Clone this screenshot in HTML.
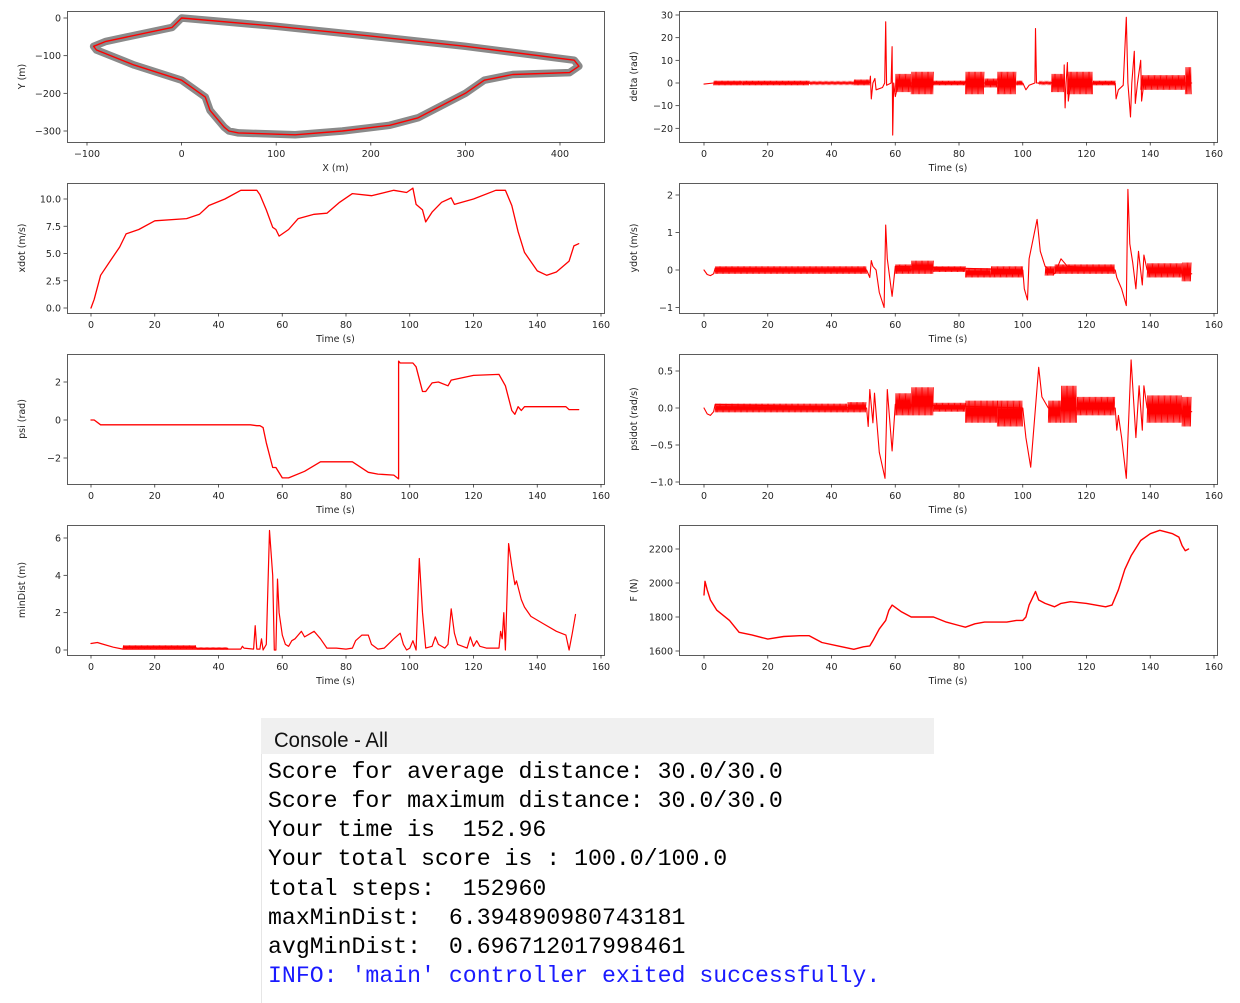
<!DOCTYPE html>
<html><head><meta charset="utf-8"><style>
html,body{margin:0;padding:0;background:#fff;width:1240px;height:1003px;overflow:hidden}
svg{display:block}
text{font-family:"DejaVu Sans","Liberation Sans",sans-serif;fill:#262626}
.mono{font-family:"Liberation Mono","DejaVu Sans Mono",monospace;font-size:23.2px;fill:#000;white-space:pre}
</style></head><body>
<svg id="fig" width="1240" height="1003" xmlns="http://www.w3.org/2000/svg">
<g id="plots"></g>
<g>
<rect x="261" y="718" width="673" height="36" fill="#f0f0f0"/>
<line x1="261.5" y1="754" x2="261.5" y2="1003" stroke="#e6e6e6"/>
<text x="274" y="747" style="font-family:'Liberation Sans',sans-serif;font-size:21px;fill:#111" textLength="114" lengthAdjust="spacingAndGlyphs">Console - All</text>
<text class="mono" x="268" y="778" xml:space="preserve">Score for average distance: 30.0/30.0</text>
<text class="mono" x="268" y="807" xml:space="preserve">Score for maximum distance: 30.0/30.0</text>
<text class="mono" x="268" y="836" xml:space="preserve">Your time is  152.96</text>
<text class="mono" x="268" y="865" xml:space="preserve">Your total score is : 100.0/100.0</text>
<text class="mono" x="268" y="895" xml:space="preserve">total steps:  152960</text>
<text class="mono" x="268" y="924" xml:space="preserve">maxMinDist:  6.394890980743181</text>
<text class="mono" x="268" y="953" xml:space="preserve">avgMinDist:  0.696712017998461</text>
<text class="mono" x="268" y="982" xml:space="preserve" style="fill:#1a1aff">INFO: 'main' controller exited successfully.</text>
</g>
</svg>
<script>
// ---- data ----
const trackX=[0,100,200,300,415,420,410,350,320,300,250,220,170,120,60,50,45,30,25,0,-50,-90,-93,-80,-10];
const trackY=[0,-22,-48,-75,-112,-128,-145,-150,-165,-200,-265,-285,-300,-310,-305,-300,-290,-245,-210,-165,-125,-85,-75,-62,-25];
const xTicksTrack=[-100,0,100,200,300,400];
const yTicksTrack=[0,-100,-200,-300];
const timeTicks=[0,20,40,60,80,100,120,140,160];

const deltaT=[0,3,52,52.2,52.5,53,53.6,54,56,56.7,57,57.3,58.7,59,59.2,59.5,60,61,100,101,102,103.8,104,104.3,112.9,113,113.3,113.6,114,114.3,115,129,129.3,130,131.5,132.5,133,133.8,134.2,135,135.3,136,137,137.3,138,153];
const deltaV=[-0.5,0,0,3,-7,0,2,-3,-2,0,27,-1,0,16,-23,0,-6,0,0,-3,-1,0,24,0,0,8,-11,0,9,-8,0,0,-7,-3,-1,29,0,-15,0,14,-9,0,10,-8,0,0];
const deltaBands=[[3,12,-1,1],[12,33,-1,1],[33,47,-0.5,0.5],[47,52,-1,1.5],[60,65,-4,4],[65,72,-5,5],[72,82,-1,1],[82,88,-5,5],[88,92,-2,2],[92,98,-5,5],[98,100,-1,1],[105,109,-0.5,0.5],[109,113,-4,4],[114,122,-5,5],[122,129,-1,1],[137,151,-3,3.5],[151,153,-5,7]];

const xdotT=[0,1,3,6,9,11,15,20,30,34,37,42,47,52,53,55,57,58,59,62,65,70,74,78,82,88,95,99,101,102,104,105,107,110,113,114,120,127,130,132,134,136,140,143,146,150,151.5,153];
const xdotV=[0,0.8,3,4.3,5.6,6.8,7.2,8,8.2,8.6,9.4,10,10.8,10.8,10.4,9,7.4,7.2,6.6,7.2,8.2,8.6,8.7,9.7,10.5,10.3,10.8,10.6,11,9.5,9,7.9,8.8,9.7,10.1,9.5,10,10.8,10.8,9.4,7,5.1,3.4,3,3.3,4.3,5.7,5.9];

const ydotT=[0,1,2,3,3.5,51,52,52.5,53,54,55,56.5,57,57.5,59,60,100,100.5,101.5,102,104.5,105.5,107,110,112,114,129,129.5,131,132.5,133,133.6,134.5,135.5,136.3,137.5,138,139,153];
const ydotV=[0,-0.12,-0.15,-0.1,0.05,0,-0.2,0.25,0.1,0,-0.6,-1,1.2,0.3,-0.7,0.1,0,-0.5,-0.8,0.3,1.35,0.5,0.1,-0.1,0.3,0.1,0,-0.2,-0.5,-0.95,2.15,0.7,0.2,-0.5,0.5,-0.4,0.4,0,-0.1];
const ydotBands=[[3.5,51,-0.1,0.1],[60,65,-0.1,0.15],[65,72,-0.1,0.25],[72,82,-0.05,0.1],[82,90,-0.2,0.05],[90,100,-0.2,0.1],[107,110,-0.15,0.1],[110,129,-0.1,0.15],[139,150,-0.2,0.18],[150,153,-0.3,0.2]];

const psiT=[0,1,3,50,52,53,54,55,57,58,60,62,67,72,82,87,90,95,96.5,96.5,97,101,102,104,105,107,109,112,113,120,128,130,132,133,134,135,136,149,150,153];
const psiV=[0,0,-0.25,-0.25,-0.3,-0.3,-0.4,-1.2,-2.5,-2.5,-3.05,-3.05,-2.7,-2.2,-2.2,-2.75,-2.85,-2.9,-3.1,3.1,3.0,3.0,2.8,1.5,1.5,1.95,2,1.8,2.1,2.35,2.4,1.8,0.5,0.3,0.7,0.5,0.7,0.7,0.55,0.55];

const psidotT=[0,1,2,3,3.5,51,51.5,52,53,53.5,55,56.8,57.5,59,60,100,101,102.5,105,106,108,129,129.5,130,131,132.5,134,135.5,136.5,137.5,138,139,153];
const psidotV=[0,-0.08,-0.1,-0.05,0.05,0,-0.25,0.25,-0.2,0.2,-0.6,-0.95,0.25,-0.58,0.05,0,-0.4,-0.8,0.55,0.15,0,0,-0.3,-0.1,-0.4,-0.95,0.65,-0.4,0.3,-0.3,0.3,0,-0.05];
const psidotBands=[[3.5,45,-0.06,0.06],[45,51,-0.06,0.08],[60,65,-0.1,0.2],[65,72,-0.1,0.28],[72,82,-0.05,0.07],[82,92,-0.2,0.1],[92,100,-0.25,0.1],[108,112,-0.2,0.1],[112,117,-0.2,0.3],[117,129,-0.1,0.15],[139,150,-0.2,0.17],[150,153,-0.25,0.15]];

const minT=[0,2,3,7,10,47,47.5,48,51,51.5,52,53,53.5,54,55,56,57,57.5,58,58.5,59,60,61,62,63,64,66,67,69,70,72,74,77,80,82,83,85,87,88,90,92,95,97,98,99,100,101,102,103,104,105,107,108,109,111,112,113,114,115,118,119,120,121,122,124,128,128.5,129,129.5,130,131,132,133,133.5,135,136,138,142,146,149,150,151,152];
const minV=[0.35,0.4,0.35,0.15,0.05,0.05,0.2,0.1,0.05,1.3,0.05,0.05,0.6,0,0.3,6.4,4,0,0,3.8,2,0.8,0.3,0.2,0.5,0.6,1,0.7,0.9,1,0.6,0.1,0.1,0.05,0.1,0.5,0.8,0.8,0.3,0.05,0.1,0.6,0.9,0.3,0,0.1,0.5,0,4.9,2,0.1,0.2,0.7,0.3,0.1,0.3,2.2,0.9,0.3,0.1,0.7,0.2,0.5,0.2,0.1,0.1,1,0.6,2,0,5.7,4.5,3.5,3.7,2.7,2.3,1.8,1.4,1,0.8,0,0.9,1.9];
const minBands=[[10,33,0.05,0.25],[33,43,0.05,0.12]];

const FT=[0,0.3,1,2,4,8,11,15,20,25,30,33,37,42,47,50,52,53,55,57,58,59,62,65,70,72,76,80,82,85,88,95,98,100,101,102,104,105,107,110,112,115,120,126,128,130,132,134,137,140,143,147,149,150,151,152];
const FV=[1930,2010,1960,1900,1840,1780,1710,1695,1670,1685,1690,1690,1650,1630,1610,1625,1630,1660,1730,1780,1840,1870,1830,1800,1800,1800,1770,1750,1740,1760,1770,1770,1780,1780,1800,1870,1950,1900,1880,1860,1880,1890,1880,1860,1870,1960,2080,2160,2250,2290,2310,2290,2270,2220,2190,2200];

// ---- drawing ----
const NS='http://www.w3.org/2000/svg';
const root=document.getElementById('plots');
function mk(tag,attrs,parent){const e=document.createElementNS(NS,tag);for(const k in attrs)e.setAttribute(k,attrs[k]);(parent||root).appendChild(e);return e;}
function lin(d0,d1,r0,r1){return v=>r0+(v-d0)*(r1-r0)/(d1-d0);}

function axes(name,x0,y0,x1,y1,sx,sy,xt,yt,xlab,ylab,fmt){
  const g=mk('g',{});
  
  
  const fr=mk('rect',{x:x0+0.5,y:y0+0.5,width:x1-x0,height:y1-y0,fill:'none',stroke:'#333','stroke-width':0.8},g);
  
  
  xt.forEach(v=>{const X=sx(v);
    mk('line',{x1:X,y1:y1,x2:X,y2:y1+3.5,stroke:'#333','stroke-width':0.8},g);
    const t=mk('text',{x:X,y:y1+15,'font-size':9.5,'text-anchor':'middle'},g);t.textContent=String(v).replace('-','\u2212');
    
    });
  yt.forEach(v=>{const Y=sy(v);
    mk('line',{x1:x0,y1:Y,x2:x0-3.5,y2:Y,stroke:'#333','stroke-width':0.8},g);
    const t=mk('text',{x:x0-6,y:Y+3.5,'font-size':9.5,'text-anchor':'end'},g);t.textContent=(fmt?fmt(v):String(v)).replace('-','\u2212');
    
    });
  const xl=mk('text',{x:(x0+x1)/2,y:y1+29,'font-size':9.5,'text-anchor':'middle'},g);xl.textContent=xlab;
  
  
  const cx=x0-42, cy=(y0+y1)/2;
  const yl=mk('text',{x:cx,y:cy,'font-size':9.5,'text-anchor':'middle',transform:`rotate(-90 ${cx} ${cy})`},g);yl.textContent=ylab;
  
  
  return g;
}
function line(g,name,xs,ys,sx,sy,color,w,extra){
  const p=mk('polyline',Object.assign({points:xs.map((x,i)=>sx(x).toFixed(1)+','+sy(ys[i]).toFixed(1)).join(' '),fill:'none',stroke:color,'stroke-width':w,'stroke-linejoin':'round','stroke-linecap':'round'},extra||{}),g);
  
  
}
function bands(g,name,bs,sx,sy){
  bs.forEach(b=>{const a=sx(b[0]),c=sx(b[1]);let pts=[];let k=0;
    for(let X=a;X<=c;X+=0.6,k++){pts.push(X.toFixed(1)+','+sy(k%2?b[3]:b[2]).toFixed(1));}
    const p=mk('polyline',{points:pts.join(' '),fill:'none',stroke:'red','stroke-width':0.8},g);
    
    });
}
const L=[67,604], R=[679,1217];
const rows=[[11,142],[183,313],[354,484],[525,655]];
const tL=lin(0,160,91,601), tR=lin(0,160,704,1214);

// track
{const sx=lin(-100,400,87,560), sy=lin(0,-300,18,131);
 const g=axes('track-plot',L[0],rows[0][0],L[1],rows[0][1],sx,sy,xTicksTrack,yTicksTrack,'X (m)','Y (m)');
 const xs=trackX.concat([trackX[0]]), ys=trackY.concat([trackY[0]]);
 line(g,'reference-track',xs,ys,sx,sy,'#8a8a8a',7.5);
 line(g,'vehicle-path',xs,ys,sx,sy,'red',1.4);}
// delta
{const sy=lin(0,30,83,15);
 const g=axes('delta-plot',R[0],rows[0][0],R[1],rows[0][1],tR,sy,timeTicks,[-20,-10,0,10,20,30],'Time (s)','delta (rad)');
 bands(g,'delta-oscillation',deltaBands,tR,sy);line(g,'delta-line',deltaT,deltaV,tR,sy,'red',1.1);}
// xdot
{const sy=lin(0,10,308,199);
 const g=axes('xdot-plot',L[0],rows[1][0],L[1],rows[1][1],tL,sy,timeTicks,[0,2.5,5,7.5,10],'Time (s)','xdot (m/s)',v=>v.toFixed(1));
 line(g,'xdot-line',xdotT,xdotV,tL,sy,'red',1.3);}
// ydot
{const sy=lin(0,2,270,195);
 const g=axes('ydot-plot',R[0],rows[1][0],R[1],rows[1][1],tR,sy,timeTicks,[-1,0,1,2],'Time (s)','ydot (m/s)');
 bands(g,'ydot-oscillation',ydotBands,tR,sy);line(g,'ydot-line',ydotT,ydotV,tR,sy,'red',1.1);}
// psi
{const sy=lin(0,2,420,382);
 const g=axes('psi-plot',L[0],rows[2][0],L[1],rows[2][1],tL,sy,timeTicks,[-2,0,2],'Time (s)','psi (rad)');
 line(g,'psi-line',psiT,psiV,tL,sy,'red',1.3);}
// psidot
{const sy=lin(0,0.5,408,371);
 const g=axes('psidot-plot',R[0],rows[2][0],R[1],rows[2][1],tR,sy,timeTicks,[-1,-0.5,0,0.5],'Time (s)','psidot (rad/s)',v=>v.toFixed(1));
 bands(g,'psidot-oscillation',psidotBands,tR,sy);line(g,'psidot-line',psidotT,psidotV,tR,sy,'red',1.1);}
// minDist
{const sy=lin(0,6,650,538);
 const g=axes('mindist-plot',L[0],rows[3][0],L[1],rows[3][1],tL,sy,timeTicks,[0,2,4,6],'Time (s)','minDist (m)');
 bands(g,'mindist-oscillation',minBands,tL,sy);line(g,'mindist-line',minT,minV,tL,sy,'red',1.2);}
// F
{const sy=lin(1600,2200,651,549);
 const g=axes('force-plot',R[0],rows[3][0],R[1],rows[3][1],tR,sy,timeTicks,[1600,1800,2000,2200],'Time (s)','F (N)');
 line(g,'force-line',FT,FV,tR,sy,'red',1.4);}
</script>
</body></html>
